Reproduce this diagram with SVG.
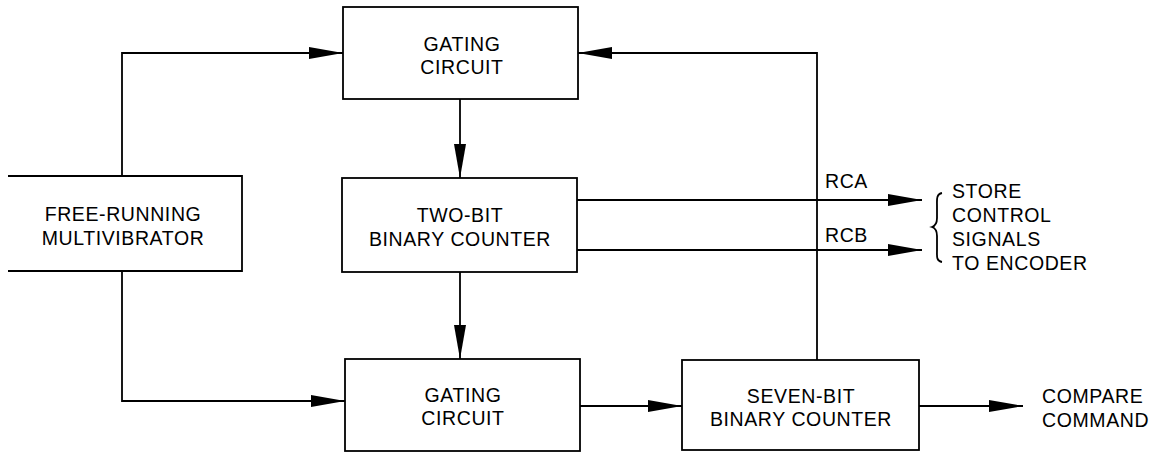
<svg xmlns="http://www.w3.org/2000/svg" width="1150" height="453" viewBox="0 0 1150 453">
<style>
.box{fill:none;stroke:#000;stroke-width:1.8}
.wire{fill:none;stroke:#000;stroke-width:1.8}
.t{font-family:"Liberation Sans",Arial,sans-serif;font-size:19.5px;letter-spacing:0.6px;fill:#000}
.c{text-anchor:middle}
</style>
<defs>
<marker id="ah" viewBox="0 0 34 12" refX="34" refY="6" markerWidth="34" markerHeight="12" markerUnits="userSpaceOnUse" orient="auto">
<path d="M0,0 L34,6 L0,12 z" fill="#000"/>
</marker>
</defs>
<rect width="1150" height="453" fill="#fff"/>
<g id="connectors">
<path class="wire" d="M122,176 V53 H343" marker-end="url(#ah)"/>
<path class="wire" d="M817,360 V53 H578" marker-end="url(#ah)"/>
<path class="wire" d="M460,99 V178" marker-end="url(#ah)"/>
<path class="wire" d="M460,272 V359" marker-end="url(#ah)"/>
<path class="wire" d="M122,271 V401 H345" marker-end="url(#ah)"/>
<path class="wire" d="M577,200 H922" marker-end="url(#ah)"/>
<path class="wire" d="M577,250 H922" marker-end="url(#ah)"/>
<path class="wire" d="M580,406 H682" marker-end="url(#ah)"/>
<path class="wire" d="M919,406 H1023" marker-end="url(#ah)"/>
<text class="t" x="825" y="188">RCA</text>
<text class="t" x="825" y="242">RCB</text>
</g>
<g id="gating-top">
<rect class="box" x="343" y="7" width="235" height="92"/>
<text class="t c" x="462" y="51">GATING</text>
<text class="t c" x="462" y="74">CIRCUIT</text>
</g>
<g id="multivibrator">
<path class="box" d="M8,176 H242 V271 H8"/>
<text class="t c" x="123" y="221">FREE-RUNNING</text>
<text class="t c" x="123" y="245">MULTIVIBRATOR</text>
</g>
<g id="two-bit">
<rect class="box" x="342" y="178" width="235" height="94"/>
<text class="t c" x="460" y="222">TWO-BIT</text>
<text class="t c" x="460" y="246">BINARY COUNTER</text>
</g>
<g id="gating-bottom">
<rect class="box" x="345" y="359" width="235" height="92"/>
<text class="t c" x="463" y="402">GATING</text>
<text class="t c" x="463" y="425">CIRCUIT</text>
</g>
<g id="seven-bit">
<rect class="box" x="682" y="360" width="237" height="90"/>
<text class="t c" x="801" y="403">SEVEN-BIT</text>
<text class="t c" x="801" y="426">BINARY COUNTER</text>
</g>
<g id="store-signals">
<path class="wire" d="M942,193 C936,194 937,200 937,206 L937,218 C937,223 935,226 932,227 C935,228 937,231 937,236 L937,250 C937,256 936,261 942,262"/>
<text class="t" x="952" y="198">STORE</text>
<text class="t" x="952" y="222">CONTROL</text>
<text class="t" x="952" y="246">SIGNALS</text>
<text class="t" x="952" y="270">TO ENCODER</text>
</g>
<g id="compare">
<text class="t" x="1042" y="403">COMPARE</text>
<text class="t" x="1042" y="427">COMMAND</text>
</g>
</svg>
